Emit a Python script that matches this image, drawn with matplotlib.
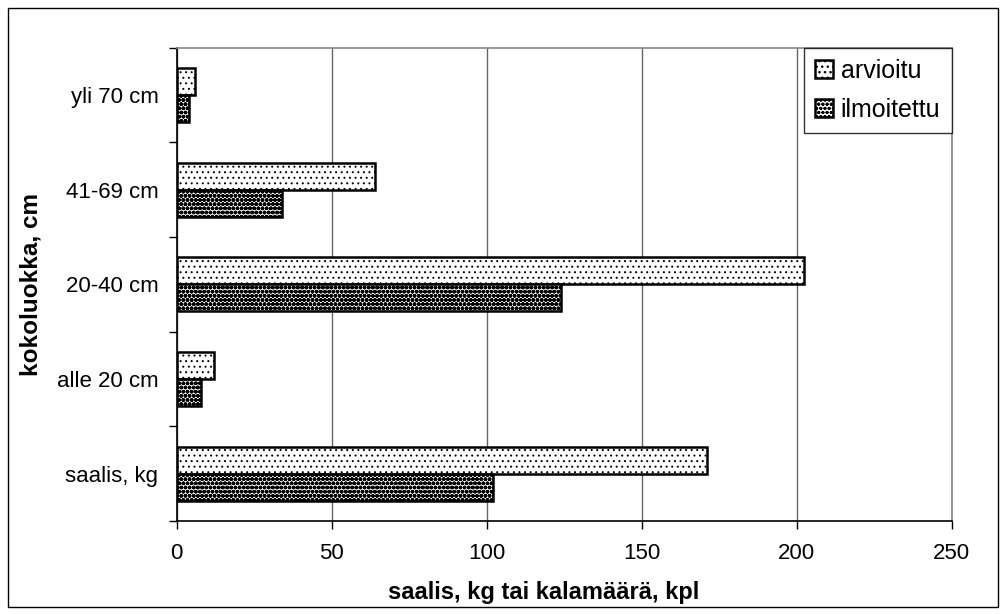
import matplotlib
matplotlib.use("Agg")
import matplotlib.pyplot as plt
from matplotlib.patches import Rectangle
import numpy as np

plt.rcParams['font.family'] = ['Liberation Sans', 'DejaVu Sans']

categories = ["saalis, kg", "alle 20 cm", "20-40 cm", "41-69 cm", "yli 70 cm"]
arvioitu = [171, 12, 202.5, 64, 6]
ilmoitettu = [102, 8, 124, 34, 4]
xticks = [0, 50, 100, 150, 200, 250]

fig = plt.figure(figsize=(10.06, 6.14), dpi=100)
ax = fig.add_axes([0.1755, 0.1515, 0.7704, 0.7711])

y = np.arange(len(categories))
h = 0.285
with plt.rc_context({'hatch.linewidth': 0.7}):
    b1 = ax.barh(y + h / 2, arvioitu, height=h, color='white', edgecolor='black',
                 linewidth=1.8, hatch='...', label='arvioitu', zorder=3)
with plt.rc_context({'hatch.linewidth': 1.4}):
    b2 = ax.barh(y - h / 2, ilmoitettu, height=h, color='white', edgecolor='black',
                 linewidth=1.8, hatch='oooo', label='ilmoitettu', zorder=3)
for bars, lw in ((b1, 0.7), (b2, 1.4)):
    for p in bars:
        if hasattr(p, 'set_hatch_linewidth'):
            p.set_hatch_linewidth(lw)

ax.set_xlim(0, 250)
ax.set_ylim(-0.5, len(categories) - 0.5)
ax.set_xticks(xticks)
ax.set_xticklabels([str(t) for t in xticks], fontsize=16)
ax.set_yticks(np.arange(-0.5, len(categories), 1.0))
ax.set_yticklabels([])
ax.set_yticks(y, minor=True)
ax.set_yticklabels(categories, minor=True, fontsize=16)
ax.tick_params(axis='y', which='major', direction='out', length=6, width=1)
ax.tick_params(axis='y', which='minor', length=0, pad=13)
ax.tick_params(axis='x', direction='out', length=6, width=1, pad=10)

ax.grid(axis='x', color='#666666', linewidth=1, zorder=0)
for s in ['top', 'right']:
    ax.spines[s].set_color('#888888')
    ax.spines[s].set_linewidth(1.2)
for s in ['left', 'bottom']:
    ax.spines[s].set_color('black')
    ax.spines[s].set_linewidth(1.2)

ax.set_xlabel("saalis, kg tai kalamäärä, kpl", fontsize=17, fontweight='bold')
ax.xaxis.set_label_coords(0.473, -0.127)
ax.set_ylabel("kokoluokka, cm", fontsize=17.5, fontweight='bold')
ax.yaxis.set_label_coords(-0.1735, 0.5)

leg = ax.legend(loc='upper right', bbox_to_anchor=(1.0, 1.0), borderaxespad=0,
                fontsize=18, frameon=True, fancybox=False, edgecolor='black',
                handlelength=0.72, handleheight=0.72, handletextpad=0.3,
                borderpad=0.45, labelspacing=0.6)
leg.get_frame().set_linewidth(1)

fig.patches.append(Rectangle((0.008, 0.012), 0.984, 0.975, transform=fig.transFigure,
                             fill=False, edgecolor='black', linewidth=1))

fig.savefig("out.png", dpi=100)
